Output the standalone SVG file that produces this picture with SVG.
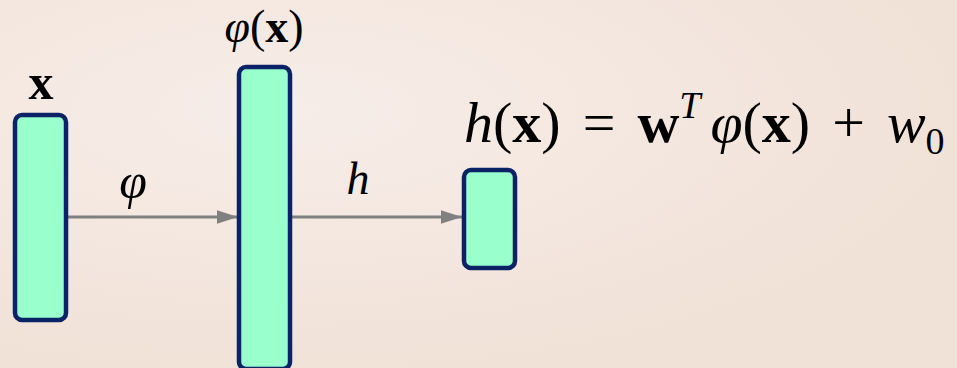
<svg xmlns="http://www.w3.org/2000/svg" width="957" height="368" viewBox="0 0 957 368">
<defs>
<style>
.box{fill:#99ffcc;stroke:#0b2366;stroke-width:4.5}
.conn{stroke:#808080;stroke-width:3;fill:none}
.t{font-family:"Liberation Serif","DejaVu Serif",serif;fill:#000}
.it{font-style:italic}
.b{font-weight:bold}
</style>
<marker id="ah" viewBox="0 0 10 10" refX="10" refY="5" markerWidth="7" markerHeight="4.5" markerUnits="strokeWidth" orient="auto" preserveAspectRatio="none">
<path d="M0,0 L10,5 L0,10 Z" fill="#808080"/>
</marker>
<radialGradient id="bg1" cx="0.3" cy="0.3" r="0.7">
<stop offset="0" stop-color="#f7ede8"/>
<stop offset="1" stop-color="#f1e2d8"/>
</radialGradient>
</defs>
<rect x="0" y="0" width="957" height="368" fill="url(#bg1)"/>
<g id="connectors">
<line class="conn" x1="66" y1="217" x2="238" y2="217" marker-end="url(#ah)"/>
<line class="conn" x1="291" y1="217" x2="462" y2="217" marker-end="url(#ah)"/>
<text class="t it" x="133" y="198" font-size="50" text-anchor="middle">φ</text>
<text class="t it" x="358" y="194" font-size="46" text-anchor="middle">h</text>
</g>
<g id="input">
<rect class="box" x="15" y="115" width="51" height="205" rx="7"/>
<text class="t b" x="41" y="99" font-size="50" text-anchor="middle">x</text>
</g>
<g id="feature">
<rect class="box" x="239" y="67" width="51" height="302" rx="7"/>
<text class="t" x="264" y="42" font-size="46" text-anchor="middle"><tspan class="it">φ</tspan>(<tspan class="b">x</tspan>)</text>
</g>
<g id="output">
<rect class="box" x="464" y="170" width="51" height="98" rx="7"/>
<text class="t" x="464" y="142" font-size="58"><tspan class="it">h</tspan>(<tspan class="b">x</tspan>)<tspan dx="22">=</tspan><tspan class="b" dx="22">w</tspan><tspan class="it" font-size="38" dy="-24">T</tspan><tspan class="it" dy="24" dx="10">φ</tspan>(<tspan class="b">x</tspan>)<tspan dx="22">+</tspan><tspan class="it" dx="22">w</tspan><tspan font-size="38" dy="12">0</tspan></text>
</g>
</svg>
